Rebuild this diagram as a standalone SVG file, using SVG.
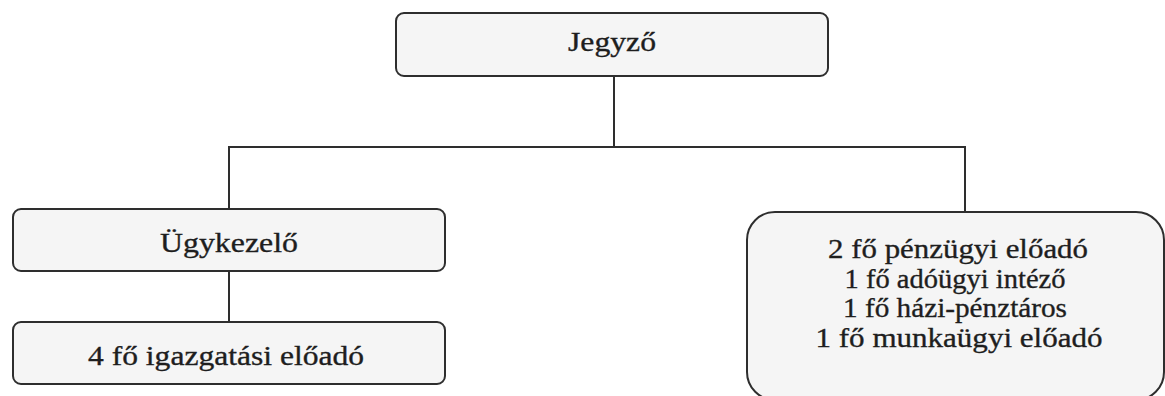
<svg xmlns="http://www.w3.org/2000/svg" width="1165" height="396" viewBox="0 0 1165 396">
<style>
.box{fill:#f5f5f5;stroke:#2e2e2e;stroke-width:2}
.lbl{font-family:"Liberation Serif",serif;font-size:28px;fill:#1e1e1e;stroke:#1e1e1e;stroke-width:0.35;text-anchor:middle}
.conn{fill:none;stroke:#2e2e2e;stroke-width:2}
</style>
<rect width="1165" height="396" fill="#ffffff"/>
<g id="connectors">
<line class="conn" x1="614" y1="76" x2="614" y2="147"/>
<polyline class="conn" points="229,209 229,147 965,147 965,212"/>
<line class="conn" x1="229" y1="271" x2="229" y2="322"/>
</g>
<g id="jegyzo">
<rect class="box" x="396" y="13" width="432" height="63" rx="8"/>
<text class="lbl" x="612" y="51" textLength="88" lengthAdjust="spacingAndGlyphs">Jegyző</text>
</g>
<g id="ugykezelo">
<rect class="box" x="13" y="209" width="432" height="62" rx="8"/>
<text class="lbl" x="229" y="252" textLength="138" lengthAdjust="spacingAndGlyphs">Ügykezelő</text>
</g>
<g id="igazgatasi">
<rect class="box" x="13" y="322" width="432" height="62" rx="8"/>
<text class="lbl" x="226" y="365" textLength="276" lengthAdjust="spacingAndGlyphs">4 fő igazgatási előadó</text>
</g>
<g id="penzugy">
<rect class="box" x="747" y="212" width="417" height="188" rx="28"/>
<text class="lbl" x="958" y="258" textLength="260" lengthAdjust="spacingAndGlyphs">2 fő pénzügyi előadó</text>
<text class="lbl" x="955" y="288" textLength="221" lengthAdjust="spacingAndGlyphs">1 fő adóügyi intéző</text>
<text class="lbl" x="955" y="317" textLength="224" lengthAdjust="spacingAndGlyphs">1 fő házi-pénztáros</text>
<text class="lbl" x="959" y="347" textLength="287" lengthAdjust="spacingAndGlyphs">1 fő munkaügyi előadó</text>
</g>
</svg>
